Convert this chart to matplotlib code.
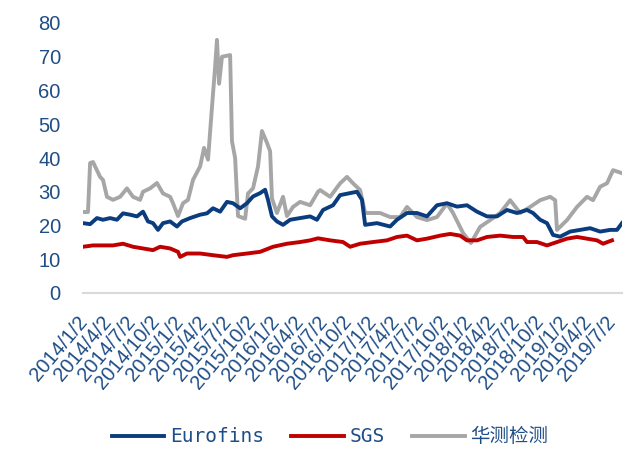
import numpy as np
import pandas as pd
import matplotlib
matplotlib.use('Agg')
import matplotlib.pyplot as plt
import matplotlib.transforms as mtransforms

# 华测检测 (gray)
hc_dates = ['2014-01-02', '2014-01-21', '2014-01-29', '2014-02-09', '2014-03-08', '2014-03-19',
            '2014-04-03', '2014-04-26', '2014-05-23', '2014-06-18', '2014-07-11', '2014-08-07',
            '2014-08-18', '2014-09-14', '2014-10-10', '2014-11-02', '2014-11-29', '2014-12-10',
            '2014-12-29', '2015-01-17', '2015-02-05', '2015-02-24', '2015-03-23', '2015-04-07',
            '2015-04-22', '2015-05-07', '2015-05-19', '2015-05-26', '2015-06-03', '2015-06-14',
            '2015-07-15', '2015-07-22', '2015-08-03', '2015-08-14', '2015-09-10', '2015-09-21',
            '2015-10-10', '2015-10-29', '2015-11-13', '2015-12-02', '2015-12-14', '2015-12-21',
            '2016-01-09', '2016-02-01', '2016-02-16', '2016-03-10', '2016-04-06', '2016-05-14',
            '2016-06-13', '2016-06-21', '2016-07-29', '2016-09-05', '2016-10-01', '2016-10-24',
            '2016-11-20', '2016-12-09', '2017-02-04', '2017-03-14', '2017-04-21', '2017-05-17',
            '2017-06-24', '2017-08-01', '2017-09-08', '2017-10-16', '2017-11-08', '2017-12-16',
            '2018-01-15', '2018-02-19', '2018-03-29', '2018-05-06', '2018-06-13', '2018-07-21',
            '2018-08-28', '2018-10-05', '2018-11-12', '2018-12-01', '2018-12-08', '2019-01-15',
            '2019-02-22', '2019-04-01', '2019-04-24', '2019-05-21', '2019-06-16', '2019-07-09',
            '2019-08-12']
hc_vals = [24, 24, 38.5, 38.8, 34.4, 33.5,
           28.5, 27.6, 28.5, 31, 28.5, 27.6,
           30, 31, 32.6, 29.5, 28.5, 26.6,
           22.8, 26.6, 27.6, 33.5, 37.5, 43,
           39.5, 55, 67, 75, 62, 70,
           70.5, 45, 40, 22.8, 22, 29.5,
           31, 37.5, 48, 44.5, 42, 28,
           23.7, 28.5, 22.8, 25.5, 27, 26,
           30, 30.5, 28.5, 32.5, 34.4, 32.5,
           30.5, 23.7, 23.7, 22.5, 22.5, 25.5,
           22.5, 21.6, 22.5, 26.5, 23.7, 17.8,
           14.8, 19.6, 21.6, 23.7, 27.5, 23.7,
           25.5, 27.5, 28.5, 27.5, 18.7, 21.6,
           25.5, 28.5, 27.5, 31.5, 32.5, 36.4,
           35.5]

# Eurofins (blue)
eu_dates = ['2014-01-02', '2014-01-29', '2014-02-24', '2014-03-19', '2014-04-15', '2014-05-11',
            '2014-06-03', '2014-06-30', '2014-07-26', '2014-08-18', '2014-09-06', '2014-09-25',
            '2014-10-14', '2014-11-02', '2014-11-29', '2014-12-25', '2015-01-13', '2015-02-13',
            '2015-03-23', '2015-04-18', '2015-05-11', '2015-06-07', '2015-07-03', '2015-07-26',
            '2015-08-22', '2015-09-17', '2015-10-10', '2015-11-06', '2015-11-25', '2015-12-06',
            '2015-12-21', '2016-01-09', '2016-02-01', '2016-02-28', '2016-04-06', '2016-05-14',
            '2016-06-09', '2016-07-02', '2016-08-09', '2016-09-05', '2016-10-13', '2016-11-08',
            '2016-11-27', '2016-12-09', '2017-01-23', '2017-03-14', '2017-04-09', '2017-05-17',
            '2017-06-24', '2017-08-01', '2017-09-08', '2017-10-16', '2017-11-23', '2017-12-31',
            '2018-02-07', '2018-03-17', '2018-04-24', '2018-06-01', '2018-07-09', '2018-08-16',
            '2018-09-08', '2018-10-05', '2018-10-31', '2018-11-23', '2018-12-20', '2019-01-27',
            '2019-03-06', '2019-04-13', '2019-05-21', '2019-06-28', '2019-07-24', '2019-08-12']
eu_vals = [20.7, 20.4, 22.2, 21.7, 22.2, 21.7,
           23.6, 23.2, 22.7, 24.1, 21.2, 20.7,
           18.7, 20.7, 21.2, 19.7, 21.2, 22.2,
           23.2, 23.6, 25.1, 24.1, 27, 26.6,
           25.1, 26.6, 28.6, 29.6, 30.6, 27.6,
           22.7, 21.2, 20.2, 21.7, 22.2, 22.7,
           21.7, 24.6, 26, 29, 29.6, 30,
           27.6, 20.2, 20.7, 19.7, 21.7, 23.7,
           23.7, 22.7, 26, 26.6, 25.6, 26,
           24.1, 22.7, 22.7, 24.6, 23.7, 24.6,
           23.7, 21.7, 20.7, 17.2, 16.7, 18.2,
           18.7, 19.2, 18.2, 18.7, 18.7, 20.7]

# SGS (red)
sgs_dates = ['2014-01-02', '2014-02-09', '2014-03-19', '2014-04-26', '2014-06-03', '2014-07-11',
             '2014-08-18', '2014-09-25', '2014-10-22', '2014-11-29', '2014-12-29', '2015-01-06',
             '2015-02-01', '2015-03-23', '2015-05-11', '2015-07-03', '2015-07-26', '2015-09-17',
             '2015-11-06', '2015-12-25', '2016-02-16', '2016-04-06', '2016-05-14', '2016-06-13',
             '2016-07-29', '2016-09-16', '2016-10-13', '2016-11-20', '2017-01-08', '2017-03-02',
             '2017-04-09', '2017-05-17', '2017-06-24', '2017-08-01', '2017-09-20', '2017-10-28',
             '2017-12-05', '2017-12-31', '2018-02-07', '2018-03-17', '2018-05-06', '2018-06-24',
             '2018-08-01', '2018-08-16', '2018-09-23', '2018-10-31', '2018-12-08', '2019-01-15',
             '2019-02-22', '2019-04-01', '2019-05-09', '2019-06-01', '2019-07-05']
sgs_vals = [13.7, 14.1, 14.1, 14.1, 14.6, 13.7,
            13.2, 12.7, 13.7, 13.2, 12.2, 10.7,
            11.7, 11.7, 11.2, 10.7, 11.2, 11.7,
            12.2, 13.7, 14.6, 15.1, 15.6, 16.2,
            15.6, 15.1, 13.7, 14.6, 15.1, 15.6,
            16.6, 17, 15.6, 16.1, 17, 17.5,
            17, 15.6, 15.6, 16.6, 17, 16.6,
            16.6, 15.1, 15.1, 14.1, 15.1, 16.1,
            16.6, 16.1, 15.6, 14.6, 15.6]

tick_dates = pd.date_range('2014-01-01', '2019-07-01', freq='3MS') + pd.Timedelta(days=1)
tick_labels = [f'{d.year}/{d.month}/{d.day}' for d in tick_dates]

navy = '#1F4E86'

fig = plt.figure(figsize=(6.33, 4.55), dpi=100)
ax = fig.add_axes([83/633, 1-293/455, 539/633, 270/455])

ax.plot(pd.to_datetime(eu_dates), eu_vals, color='#0B3D7E', lw=2.8, label='Eurofins', zorder=3)
ax.plot(pd.to_datetime(sgs_dates), sgs_vals, color='#C00000', lw=2.8, label='SGS', zorder=2)
ax.plot(pd.to_datetime(hc_dates), hc_vals, color='#A6A6A6', lw=2.8, label='华测检测', zorder=1)

ax.set_ylim(0, 80)
ax.set_yticks(np.arange(0, 81, 10))
ax.set_xlim(pd.Timestamp('2014-01-02'), pd.Timestamp('2019-08-12'))
ax.set_xticks(tick_dates)
ax.set_xticklabels(tick_labels, rotation=50, ha='right', va='top', rotation_mode='anchor')

for s in ['top', 'right', 'left']:
    ax.spines[s].set_visible(False)
ax.spines['bottom'].set_color('#D9D9D9')
ax.spines['bottom'].set_linewidth(1.5)
ax.tick_params(axis='both', length=0, colors=navy, labelsize=14.5)
ax.tick_params(axis='x', pad=14)
ax.tick_params(axis='y', pad=16)
for t in ax.get_xticklabels() + ax.get_yticklabels():
    t.set_fontfamily('Liberation Sans')
shift = mtransforms.ScaledTranslation(-6/100, 0, fig.dpi_scale_trans)
for t in ax.get_xticklabels():
    t.set_transform(t.get_transform() + shift)

leg = fig.legend(loc='center', bbox_to_anchor=(330/633, 1-437/455), ncol=3, frameon=False,
                 handlelength=2.7, columnspacing=1.4, handletextpad=0.3,
                 prop={'family': ['DejaVu Sans Mono', 'Noto Sans CJK SC'], 'size': 14})
for t in leg.get_texts():
    t.set_color(navy)

fig.savefig('out.png', dpi=100)
